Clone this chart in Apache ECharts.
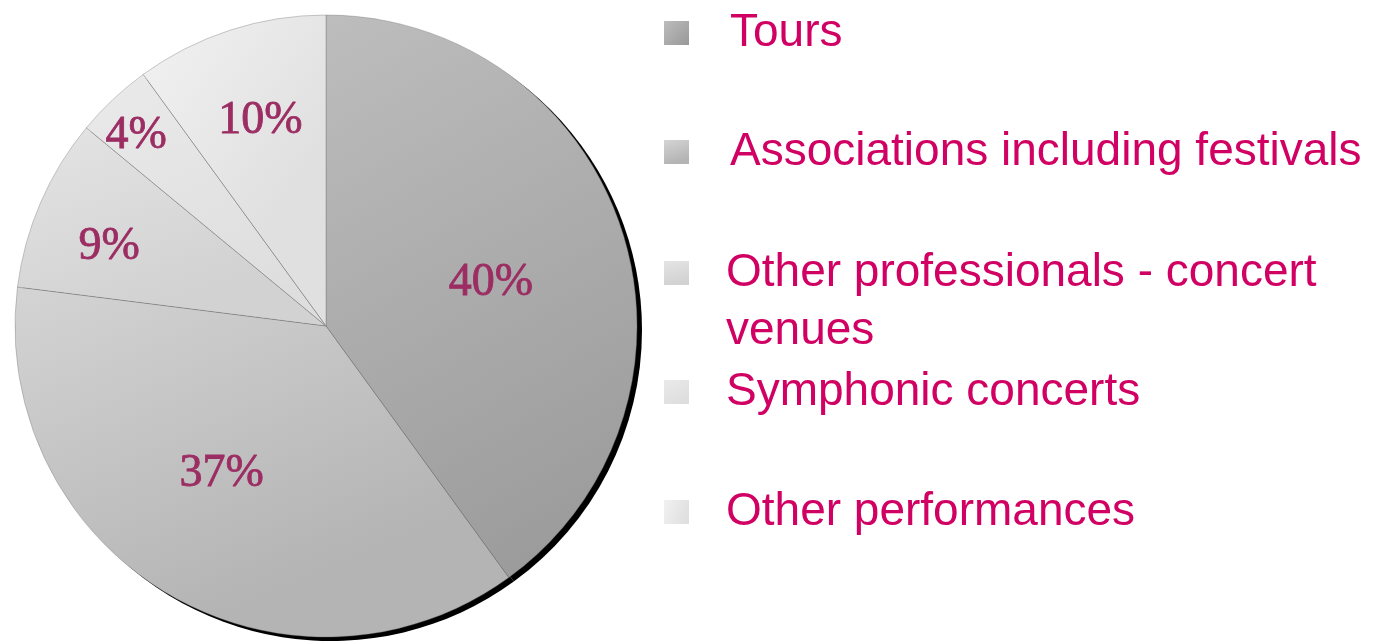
<!DOCTYPE html>
<html>
<head>
<meta charset="utf-8">
<script src="https://cdn.jsdelivr.net/npm/echarts@6/dist/echarts.min.js"></script>
<style>
  html, body { margin: 0; padding: 0; background: #fff; }
  #chart { width: 1382px; height: 644px; }
</style>
</head>
<body>
<div id="chart"></div>
<script>
// share of concerts by organiser type (%)
var categories = ['Tours', 'Associations including festivals', 'Other professionals - concert venues', 'Symphonic concerts', 'Other performances'];
var shares = [40, 37, 9, 4, 10];

var pieCenter = [326, 326];
var pieRadius = 311;
// labels sit further out than the default mid-radius spot, plus a small nudge
var labelPush = [1.10, 1.145, 1.49, 1.75, 1.40];
var labelNudge = [[-1, 11], [-12, -8], [0, 15], [0, 12], [3, 6]];
var legendTops = [4, 123, 186, 363, 483];

function grad(x2, y2, from, to) {
  return new echarts.graphic.LinearGradient(0, 0, x2, y2, [
    { offset: 0, color: from },
    { offset: 1, color: to }
  ])
}

var sliceColors = [
  grad(1, 1, '#bdbdbd', '#989898'),
  grad(0.3, 1, '#d4d4d4', '#b4b4b4'),
  grad(0.2, 1, '#e4e4e4', '#d2d2d2'),
  grad(0.5, 1, '#eaeaea', '#dedede'),
  grad(1, 0.4, '#f2f2f2', '#e0e0e0')
];

var chart = echarts.init(document.getElementById('chart'));

var legends = categories.map(function (name, i) {
  return {
    orient: 'vertical',
    left: 664,
    top: legendTops[i],
    padding: 0,
    data: [name],
    icon: 'rect',
    itemWidth: 25,
    itemHeight: 24,
    selectedMode: false,
    itemStyle: { borderWidth: 0 },
    // wrapped entry: blank first line so the icon lines up with the first text line
    formatter: function (n) {
      return n.length > 32 ? ' \n' + n : n
    },
    textStyle: {
      fontFamily: 'Liberation Sans',
      fontSize: 46,
      lineHeight: 58,
      color: '#d10063',
      width: 640,
      overflow: 'break',
      padding: [0, 0, 0, i < 2 ? 36 : 32]
    }
  }
});

chart.setOption({
  backgroundColor: '#fff',
  animation: false,
  legend: legends,
  series: [
    {
      name: 'share',
      type: 'pie',
      z: 3,
      center: pieCenter,
      radius: [0, pieRadius],
      startAngle: 90,
      clockwise: true,
      silent: true,
      itemStyle: {
        borderColor: 'rgba(110,110,110,0.6)',
        borderWidth: 0.6
      },
      label: {
        show: true,
        position: 'inside',
        formatter: '{c}%',
        fontFamily: 'Liberation Serif',
        fontSize: 46,
        color: '#9b2d63',
        textBorderColor: '#9b2d63',
        textBorderWidth: 0.8
      },
      labelLine: { show: false },
      labelLayout: function (p) {
        var r = p.labelRect;
        var i = p.dataIndex;
        var k = labelPush[i] - 1;
        return {
          dx: k * (r.x + r.width / 2 - pieCenter[0]) + labelNudge[i][0],
          dy: k * (r.y + r.height / 2 - pieCenter[1]) + labelNudge[i][1]
        }
      },
      data: categories.map(function (name, i) {
        return { name: name, value: shares[i], itemStyle: { color: sliceColors[i] } }
      })
    },
    // black drop shadow behind the pie
    {
      name: 'shadow',
      type: 'pie',
      z: 1,
      center: [pieCenter[0] + 5, pieCenter[1] + 4],
      radius: [0, pieRadius],
      startAngle: 90,
      silent: true,
      label: { show: false },
      labelLine: { show: false },
      itemStyle: { color: '#000', borderWidth: 0 },
      data: categories.map(function (name, i) {
        return { name: name, value: shares[i] }
      })
    }
  ]
});
</script>
</body>
</html>
